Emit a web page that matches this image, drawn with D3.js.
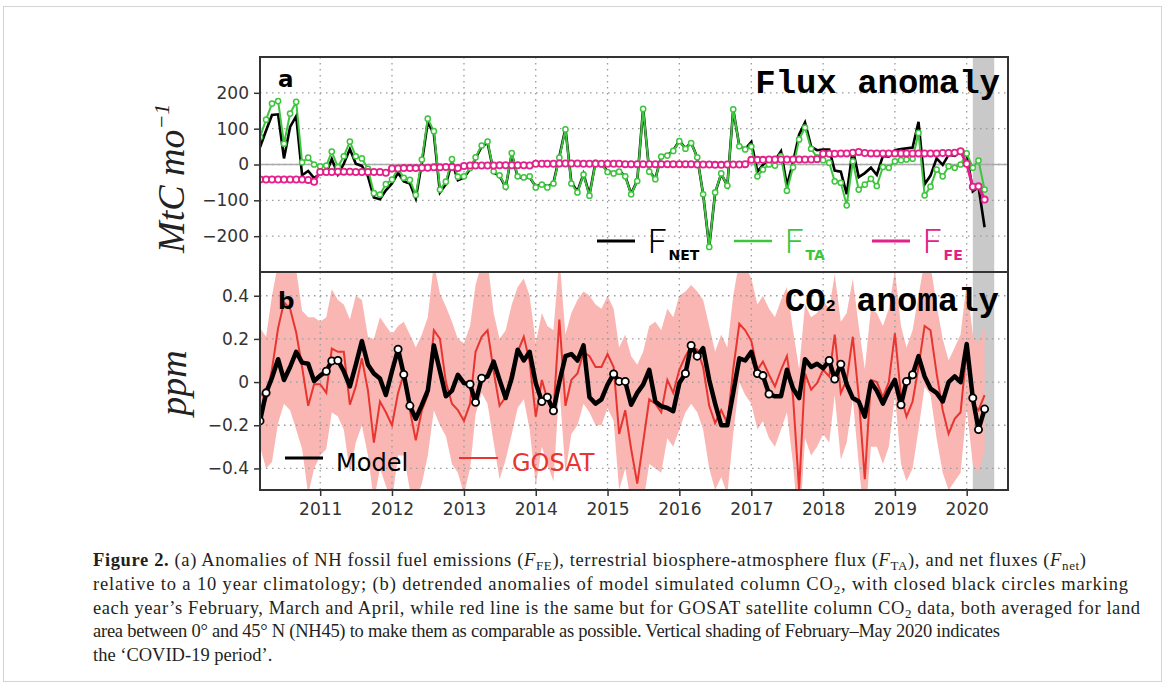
<!DOCTYPE html>
<head>
<meta charset="utf-8">
<style>
  body { margin: 0; background: #fff; }
  svg { display: block; }
  .grid line { stroke: #9a9a9a; stroke-width: 1.3; stroke-dasharray: 1.5, 4.5; }
  .axis text { font-family: "DejaVu Sans"; font-size: 17px; fill: #333; }
  .axis line { stroke: #333; stroke-width: 1.5; }
  .axis path { display: none; }
  .caption { font-family: "Liberation Serif"; font-size: 18.5px; fill: #231f20; }
</style>
</head>
<body>
<svg id="fig" width="1167" height="693"></svg>
<script src="https://d3js.org/d3.v7.min.js"></script>
<script>
// ticks
var yearTicks = [2011, 2012, 2013, 2014, 2015, 2016, 2017, 2018, 2019, 2020]
var fluxTicks = [-200, -100, 0, 100, 200]
var ppmTicks = [-0.4, -0.2, 0, 0.2, 0.4]

// monthly values, Mar 2010 .. Apr 2020 (MtC/mo)
var fFE = [
  -42, -42, -42, -42, -42, -42, -42, -42, -43, -48,
  -21, -21, -21, -20, -20, -20, -21, -21, -21, -21, -21, -23,
  -11, -11, -10, -10, -10, -9, -9, -8, -8, -7, -7, -10,
  -4, -3, -3, -3, -3, -3, -2, -2, -2, -2, -2, -3,
  2, 2, 2, 2, 3, 3, 3, 3, 2, 2, 2, 2,
  2, 2, 2, 1, 1, 1, 1, 1, 1, 1, 1, 1,
  1, 1, 1, 0, 0, 0, -1, -1, 0, 0, 0, 1,
  13, 13, 13, 14, 14, 14, 14, 14, 14, 14, 14, 15,
  30, 30, 30, 31, 31, 33, 35, 32, 31, 31, 31, 31,
  31, 31, 31, 31, 31, 31, 31, 31, 32, 32, 33, 37,
  2, -62, -61, -98
]
var fTA = [
  77, 125, 170, 177, 58, 142, 175, 6, 19, 0,
  -5, -3, 36, -7, 23, 64, 23, 17, -12, -80, -84, -55,
  -42, -12, -37, -43, -85, 14, 128, 93, -70, -48, 15, -34,
  -33, -10, 20, 53, 64, -19, -30, -62, 32, -33, -36, -33,
  -64, -56, -64, -53, 19, 98, -53, -78, -28, -87, 5, 0,
  -21, -25, -20, -33, -83, -46, 155, -20, -41, 22, 25, 38,
  65, 44, 60, 20, -83, -230, -78, -25, -59, 154, 51, 42,
  50, -33, -14, 0, -3, 23, -73, -8, 70, 103, 44, 20,
  12, 5, -47, -51, -114, 9, -70, -56, -40, -60, -7, -9,
  9, 12, 14, 16, 88, -86, -62, -14, -33, -5, -9, 0,
  31, -9, 11, -70
]
var fNET = [
  48, 95, 138, 140, 17, 105, 135, -30, -18, -38,
  -26, -24, 15, -28, 2, 43, 2, -4, -33, -92, -97, -72,
  -53, -23, -47, -53, -95, 5, 119, 85, -78, -55, 8, -44,
  -37, -13, 17, 50, 61, -22, -32, -64, 30, -35, -38, -36,
  -62, -54, -62, -51, 22, 101, -50, -75, -26, -85, 7, 2,
  -19, -23, -18, -32, -82, -45, 156, -19, -40, 23, 26, 39,
  66, 45, 61, 20, -83, -230, -79, -26, -59, 154, 51, 43,
  63, -20, -1, 14, 11, 37, -59, 6, 84, 117, 50, 40,
  42, 42, -17, -20, -83, 42, -35, -24, -9, -29, 24, 22,
  40, 43, 45, 47, 119, -55, -31, 17, -1, 27, 24, 37,
  33, -75, -62, -175
]

// column CO2 anomaly (ppm)
var model = [
  -0.18, -0.05, 0.02, 0.106, 0.01, 0.07, 0.14, 0.09, 0.085, 0.005,
  0.03, 0.05, 0.098, 0.10, 0.05, -0.02, 0.08, 0.19, 0.08, 0.04, 0.017, -0.06,
  0.05, 0.152, 0.035, -0.11, -0.17, -0.106, -0.04, 0.17, 0.05, -0.066, -0.04, 0.034,
  -0.005, -0.01, -0.094, 0.018, 0.026, 0.095, 0.01, -0.074, 0.018, 0.15, 0.10, 0.14,
  -0.005, -0.09, -0.07, -0.133, 0.0, 0.12, 0.13, 0.10, 0.17, -0.07, -0.1, -0.08,
  -0.012, 0.038, 0.003, 0.003, -0.105, -0.05, -0.012, 0.057, -0.09, -0.112, -0.12, -0.135,
  -0.005, 0.04, 0.17, 0.12, 0.157, 0.01, -0.1, -0.2, -0.2, -0.05, 0.11, 0.10,
  0.14, 0.04, 0.03, -0.055, -0.066, -0.066, 0.057, -0.03, -0.074, 0.106, 0.07, 0.085,
  0.064, 0.10, 0.014, 0.083, -0.01, -0.074, -0.09, -0.16, 0.0, -0.04, -0.1, -0.04,
  0.01, -0.105, 0.003, 0.034, 0.12, 0.026, -0.03, -0.05, -0.09, 0.0, 0.026, 0.0,
  0.176, -0.074, -0.22, -0.125
]
var gosat = [
  -0.05, -0.08, 0.06, 0.25, 0.37, 0.34, 0.23, 0.07, -0.11, -0.01,
  -0.01, -0.05, 0.155, 0.14, 0.14, -0.105, -0.02, 0.11, -0.04, -0.28, -0.09, -0.14,
  -0.20, -0.05, 0.04, -0.13, -0.27, -0.13, -0.06, 0.24, 0.20, 0.0, -0.1, -0.13,
  -0.18, -0.1, 0.14, 0.21, 0.24, 0.05, -0.11, -0.07, 0.05, 0.14, 0.21, 0.095,
  -0.16, 0.01, -0.08, -0.14, 0.29, -0.11, 0.01, 0.04, 0.14, 0.12, 0.07, 0.07,
  0.13, 0.07, -0.24, -0.13, -0.31, -0.47, -0.28, -0.08, -0.1, -0.14, 0.01, -0.05,
  0.057, 0.12, 0.165, 0.15, 0.07, -0.11, -0.19, -0.13, -0.19, 0.06, 0.27, 0.24,
  0.19, 0.057, 0.095, 0.034, -0.02, 0.057, 0.12, -0.066, -0.5, 0.04, -0.035, -0.005,
  0.057, 0.026, 0.22, -0.05, 0.01, 0.21, -0.066, -0.45, 0.01, 0.0, -0.07, 0.0,
  0.226, -0.066, -0.16, -0.09, 0.07, 0.26, 0.24, 0.04, -0.13, -0.24, -0.17, -0.14,
  0.15, -0.1, -0.13, -0.06
]
var gosatHi = [
  0.25, 0.21, 0.40, 0.55, 0.60, 0.58, 0.52, 0.33, 0.30, 0.30,
  0.28, 0.30, 0.43, 0.38, 0.36, 0.29, 0.40, 0.38, 0.21, 0.20, 0.30, 0.26,
  0.22, 0.26, 0.28, 0.22, 0.16, 0.22, 0.30, 0.55, 0.41, 0.35, 0.28, 0.20,
  0.18, 0.26, 0.45, 0.55, 0.56, 0.32, 0.20, 0.24, 0.36, 0.44, 0.48, 0.40,
  0.18, 0.32, 0.26, 0.24, 0.58, 0.22, 0.32, 0.38, 0.42, 0.40, 0.36, 0.34,
  0.40, 0.34, 0.16, 0.22, 0.12, 0.08, 0.14, 0.26, 0.28, 0.24, 0.34, 0.30,
  0.40, 0.42, 0.45, 0.42, 0.38, 0.26, 0.14, 0.22, 0.16, 0.40, 0.56, 0.54,
  0.48, 0.36, 0.40, 0.34, 0.30, 0.38, 0.44, 0.24, 0.06, 0.36, 0.30, 0.32,
  0.38, 0.34, 0.50, 0.28, 0.32, 0.48, 0.26, 0.06, 0.34, 0.32, 0.26, 0.34,
  0.52, 0.26, 0.16, 0.24, 0.40, 0.56, 0.54, 0.36, 0.20, 0.10, 0.16, 0.22,
  0.46, 0.22, 0.18, 0.26
]
var gosatLo = [
  -0.30, -0.40, -0.37, -0.19, -0.10, -0.13, -0.22, -0.31, -0.52, -0.40,
  -0.34, -0.31, -0.14, -0.16, -0.22, -0.42, -0.28, -0.20, -0.34, -0.55, -0.40, -0.48,
  -0.55, -0.34, -0.34, -0.50, -0.55, -0.47, -0.34, -0.13, -0.20, -0.25, -0.38, -0.42,
  -0.52, -0.40, -0.15, -0.05, -0.10, -0.28, -0.45, -0.36, -0.24, -0.12, -0.08, -0.22,
  -0.48, -0.30, -0.38, -0.46, -0.02, -0.42, -0.24, -0.20, -0.10, -0.14, -0.20, -0.20,
  -0.12, -0.18, -0.50, -0.40, -0.56, -0.62, -0.56, -0.38, -0.40, -0.42, -0.26, -0.30,
  -0.22, -0.14, -0.10, -0.14, -0.22, -0.40, -0.50, -0.44, -0.52, -0.24, 0.00, -0.06,
  -0.10, -0.22, -0.18, -0.26, -0.30, -0.22, -0.14, -0.38, -0.70, -0.26, -0.34, -0.30,
  -0.24, -0.28, -0.06, -0.36, -0.28, -0.08, -0.38, -0.66, -0.30, -0.30, -0.38, -0.30,
  -0.06, -0.38, -0.46, -0.40, -0.22, -0.02, -0.06, -0.26, -0.42, -0.50, -0.46, -0.42,
  -0.12, -0.38, -0.42, -0.32
]

var months = d3.utcMonth.range(new Date(Date.UTC(2010, 2, 1)), new Date(Date.UTC(2020, 4, 1)))
var covid = [new Date(Date.UTC(2020, 1, 1)), new Date(Date.UTC(2020, 4, 20))]

var green = "#3cc63c", pink = "#e3218b", red = "#e9352f", band = "#f9b6b3"

var svg = d3.select("#fig")
var x = d3.scaleUtc()
    .domain([new Date(Date.UTC(2010, 2, 1)), new Date(Date.UTC(2020, 6, 29))])
    .range([260, 1008])
var yF = d3.scaleLinear().domain([-300, 300]).range([272, 57])
var yC = d3.scaleLinear().domain([-0.5, 0.51]).range([490, 272])
var yearDate = (y) => new Date(Date.UTC(y, 0, 1))

// outer figure border
svg.append("rect").attr("x", 3.5).attr("y", 6.5).attr("width", 1158).attr("height", 675)
    .attr("fill", "none").attr("stroke", "#d4d4d4")

var defs = svg.append("defs")
defs.append("clipPath").attr("id", "clipA").append("rect")
    .attr("x", 260).attr("y", 57).attr("width", 748).attr("height", 215)
defs.append("clipPath").attr("id", "clipB").append("rect")
    .attr("x", 260).attr("y", 272).attr("width", 748).attr("height", 218)

function panel(id, y, yTicks, top, bottom) {
    var g = svg.append("g").attr("clip-path", "url(#" + id + ")")
    g.append("rect").attr("x", x(covid[0])).attr("width", x(covid[1]) - x(covid[0]))
        .attr("y", top).attr("height", bottom - top).attr("fill", "#c9c9c9")
    var grid = g.append("g").attr("class", "grid")
    grid.selectAll(".v").data(yearTicks).join("line")
        .attr("x1", d => x(yearDate(d))).attr("x2", d => x(yearDate(d)))
        .attr("y1", top).attr("y2", bottom)
    grid.selectAll(".h").data(yTicks).join("line")
        .attr("x1", 260).attr("x2", 1008)
        .attr("y1", d => y(d)).attr("y2", d => y(d))
    return g
}

// ---- panel a
var ga = panel("clipA", yF, fluxTicks, 57, 272)
ga.append("line").attr("x1", 260).attr("x2", 1008).attr("y1", yF(0)).attr("y2", yF(0))
    .attr("stroke", "#aaa").attr("stroke-width", 1.3)

var lineF = (arr) => d3.line().x((d, i) => x(months[i])).y(d => yF(d))(arr)

ga.append("path").attr("d", lineF(fNET)).attr("fill", "none").attr("stroke", "#000").attr("stroke-width", 2.6)
ga.append("path").attr("d", lineF(fTA)).attr("fill", "none").attr("stroke", green).attr("stroke-width", 2)
ga.append("g").selectAll("circle").data(fTA).join("circle")
    .attr("cx", (d, i) => x(months[i])).attr("cy", d => yF(d)).attr("r", 2.6)
    .attr("fill", "#fff").attr("stroke", green).attr("stroke-width", 1.5)
ga.append("path").attr("d", lineF(fFE)).attr("fill", "none").attr("stroke", pink).attr("stroke-width", 3)
ga.append("g").selectAll("circle").data(fFE).join("circle")
    .attr("cx", (d, i) => x(months[i])).attr("cy", d => yF(d)).attr("r", 3.1)
    .attr("fill", "#fff").attr("stroke", pink).attr("stroke-width", 1.8)

// ---- panel b
var gb = panel("clipB", yC, ppmTicks, 272, 490)
gb.insert("path", ".grid")
    .attr("d", d3.area().x((d, i) => x(months[i])).y0((d, i) => yC(gosatLo[i])).y1(d => yC(d))(gosatHi))
    .attr("fill", band)
var lineC = (arr) => d3.line().x((d, i) => x(months[i])).y(d => yC(d))(arr)
gb.append("path").attr("d", lineC(gosat)).attr("fill", "none").attr("stroke", red).attr("stroke-width", 2)
gb.append("path").attr("d", lineC(model)).attr("fill", "none").attr("stroke", "#000")
    .attr("stroke-width", 4.5).attr("stroke-linejoin", "round")
gb.append("g").selectAll("circle")
    .data(model.map((v, i) => ({ v: v, t: months[i] })).filter(d => [1, 2, 3].includes(d.t.getUTCMonth())))
    .join("circle")
    .attr("cx", d => x(d.t)).attr("cy", d => yC(d.v)).attr("r", 3.6)
    .attr("fill", "#fff").attr("stroke", "#000").attr("stroke-width", 1.8)

// frames
svg.append("rect").attr("x", 260).attr("y", 57).attr("width", 748).attr("height", 215)
    .attr("fill", "none").attr("stroke", "#333").attr("stroke-width", 2)
svg.append("rect").attr("x", 260).attr("y", 272).attr("width", 748).attr("height", 218)
    .attr("fill", "none").attr("stroke", "#333").attr("stroke-width", 2)

// axes
svg.append("g").attr("class", "axis").attr("transform", "translate(259,0)")
    .call(d3.axisLeft(yF).tickValues(fluxTicks).tickSize(5).tickPadding(5))
svg.append("g").attr("class", "axis").attr("transform", "translate(259,0)")
    .call(d3.axisLeft(yC).tickValues(ppmTicks).tickSize(5).tickPadding(5)
        .tickFormat(d => d === 0 ? "0" : d3.format(".1f")(d)))
svg.append("g").attr("class", "axis").attr("transform", "translate(0,491)")
    .call(d3.axisBottom(x).tickValues(yearTicks.map(yearDate)).tickSize(5).tickPadding(7)
        .tickFormat(d3.utcFormat("%Y")))

// axis titles
var t1 = svg.append("text").attr("transform", "translate(184,253) rotate(-90)")
    .style("font-family", "Liberation Serif").style("font-style", "italic").style("font-size", "38px").attr("fill", "#222")
t1.append("tspan").text("MtC mo")
t1.append("tspan").attr("dy", -15).style("font-size", "22px").text("−1")
svg.append("text").attr("transform", "translate(186,383) rotate(-90)").attr("text-anchor", "middle")
    .style("font-family", "Liberation Serif").style("font-style", "italic").style("font-size", "38px").attr("fill", "#222")
    .text("ppm")

// panel letters and titles
svg.append("text").attr("x", 278).attr("y", 87).text("a")
    .style("font-family", "DejaVu Sans").style("font-weight", "bold").style("font-size", "23px")
svg.append("text").attr("x", 278).attr("y", 309).text("b")
    .style("font-family", "DejaVu Sans").style("font-weight", "bold").style("font-size", "23px")
svg.append("text").attr("x", 1000).attr("y", 93).attr("text-anchor", "end").text("Flux anomaly")
    .style("font-family", "Liberation Mono").style("font-weight", "bold").style("font-size", "34px")
var co = svg.append("text").attr("x", 999).attr("y", 311).attr("text-anchor", "end")
    .style("font-family", "Liberation Mono").style("font-weight", "bold").style("font-size", "34px")
co.append("tspan").text("CO")
co.append("tspan").style("font-size", "17px").text("2")
co.append("tspan").text(" anomaly")

// legend a
var legA = [
    { x: 597, c: "#000", sub: "NET", w: 3 },
    { x: 734, c: green, sub: "TA", w: 2.5 },
    { x: 872, c: pink, sub: "FE", w: 3 }
]
legA.forEach(function (d) {
    svg.append("line").attr("x1", d.x).attr("x2", d.x + 38).attr("y1", 241).attr("y2", 241)
        .attr("stroke", d.c).attr("stroke-width", d.w)
    var t = svg.append("text").attr("x", d.x + 51).attr("y", 253).attr("fill", d.c)
    t.append("tspan").text("F").style("font-family", "Roboto").style("font-weight", 300).style("font-size", "33px")
    t.append("tspan").attr("dx", 2).attr("dy", 7).text(d.sub)
        .style("font-family", "DejaVu Sans").style("font-weight", "bold").style("font-size", "14px")
})

// legend b
svg.append("line").attr("x1", 285).attr("x2", 323).attr("y1", 458).attr("y2", 458).attr("stroke", "#000").attr("stroke-width", 3)
svg.append("text").attr("x", 336).attr("y", 471).text("Model")
    .style("font-family", "DejaVu Sans").style("font-size", "24px").attr("fill", "#000")
svg.append("line").attr("x1", 459).attr("x2", 498).attr("y1", 458).attr("y2", 458).attr("stroke", red).attr("stroke-width", 2)
svg.append("text").attr("x", 512).attr("y", 471).text("GOSAT")
    .style("font-family", "DejaVu Sans").style("font-size", "24px").attr("fill", red)

// caption
var capLines = [
    [["b", "Figure 2."], ["", " (a) Anomalies of NH fossil fuel emissions ("], ["i", "F"], ["s", "FE"], ["", "), terrestrial biosphere-atmosphere flux ("], ["i", "F"], ["s", "TA"], ["", "), and net fluxes ("], ["i", "F"], ["s", "net"], ["", ")"]],
    [["", "relative to a 10 year climatology; (b) detrended anomalies of model simulated column CO"], ["s", "2"], ["", ", with closed black circles marking"]],
    [["", "each year’s February, March and April, while red line is the same but for GOSAT satellite column CO"], ["s", "2"], ["", " data, both averaged for land"]],
    [["", "area between 0° and 45° N (NH45) to make them as comparable as possible. Vertical shading of February–May 2020 indicates"]],
    [["", "the ‘COVID-19 period’."]]
]
var capWidth = [993, 1035, 1047, 907, null]
capLines.forEach(function (parts, li) {
    var t = svg.append("text").attr("class", "caption").attr("x", 93).attr("y", 566 + li * 23.8)
    if (capWidth[li]) t.attr("textLength", capWidth[li]).attr("lengthAdjust", "spacing")
    var sub = false
    parts.forEach(function (p) {
        var s = t.append("tspan").text(p[1])
        if (p[0] === "b") s.style("font-weight", "bold")
        if (p[0] === "i") s.style("font-style", "italic")
        if (p[0] === "s") { s.style("font-size", "13px").attr("dy", 4); sub = true }
        else if (sub) { s.attr("dy", -4); sub = false }
    })
})
</script>
</body>
